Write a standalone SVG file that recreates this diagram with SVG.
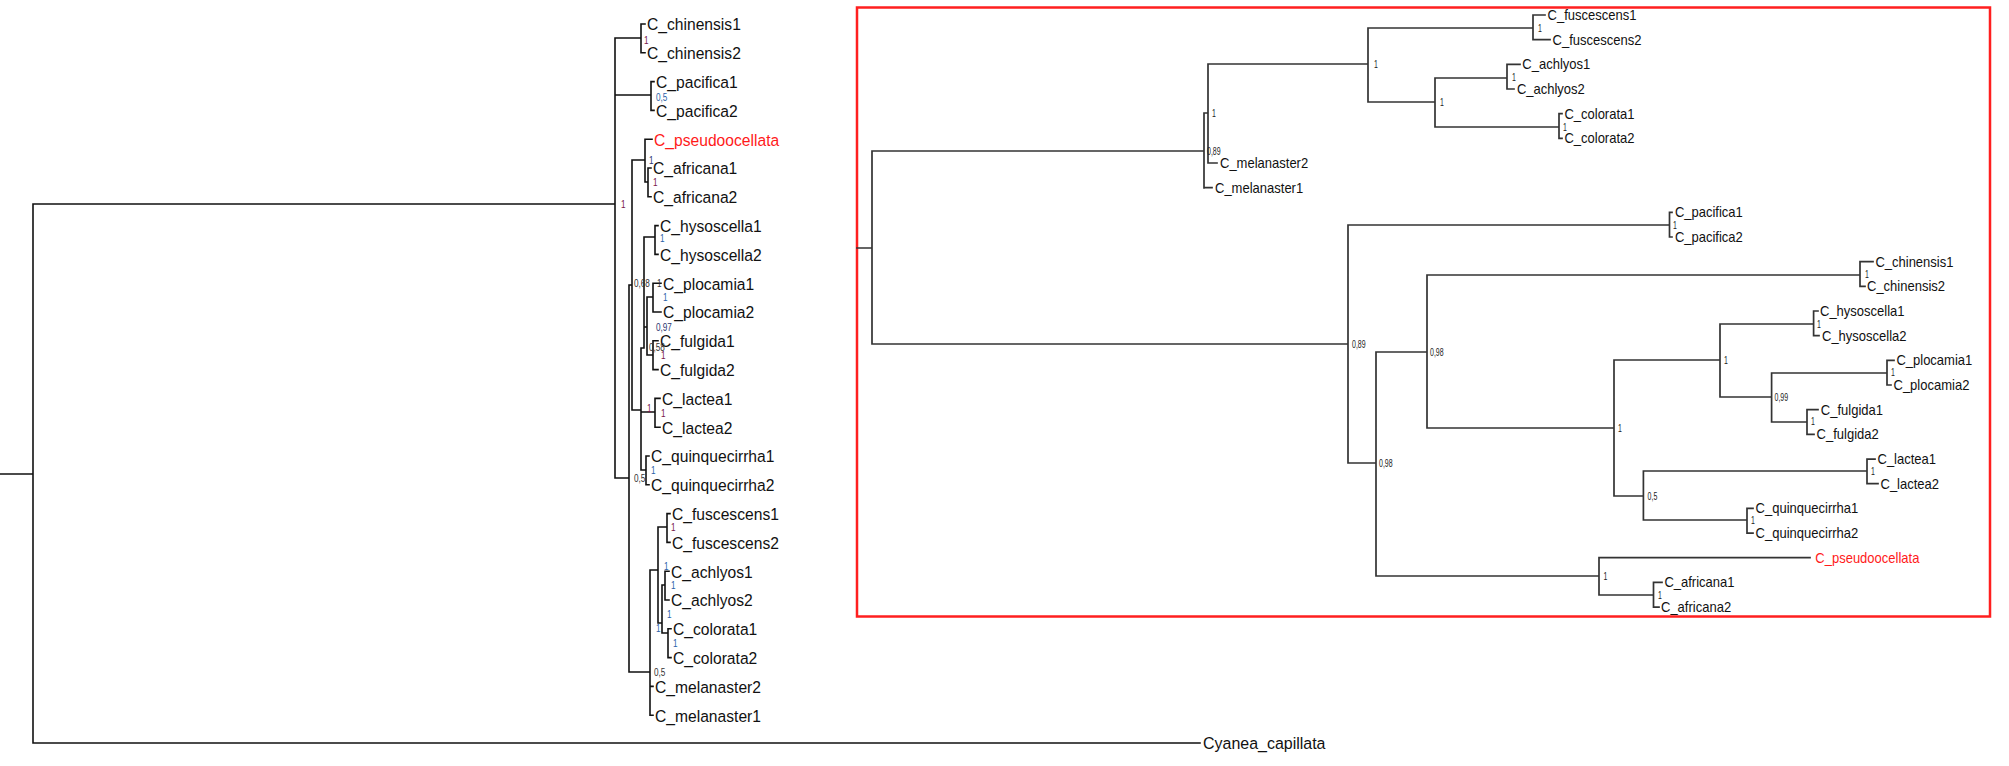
<svg xmlns="http://www.w3.org/2000/svg" width="2009" height="766" viewBox="0 0 2009 766">
<style>
.br{fill:none;stroke:#111;stroke-width:1.6;stroke-linecap:square}
.brr{fill:none;stroke:#333;stroke-width:1.7;stroke-linecap:square}
.lf{font-family:"Liberation Sans",Arial,sans-serif;font-size:17px;fill:#111}
.rf{font-family:"Liberation Sans",Arial,sans-serif;font-size:14px;fill:#111}
.red{fill:#ff1a1a}
.sl{font-family:"Liberation Sans",Arial,sans-serif;font-size:10.5px}
.sr{font-family:"Liberation Sans",Arial,sans-serif;font-size:10px;fill:#222}
.m{fill:#7a1848}.b{fill:#2a62a8}.n{fill:#2a3570}.d{fill:#333}
.box{fill:none;stroke:#ff1f1f;stroke-width:2.5}
</style>
<rect width="2009" height="766" fill="#fff"/>
<rect id="highlight-box" class="box" x="857" y="7.5" width="1133" height="609"/>
<g id="connectors">
<path class="br" d="M0 474H33M33 204V743M33 204H615M33 743H1200M615 38V478
M615 38H641M641 24V52.8M641 24H645M641 52.8H645
M615 95H651M651 81.6V110.4M651 81.6H654M651 110.4H654
M615 478H629M629 285V672
M629 285H632M632 160V410
M632 160H645M645 139.2V182M645 139.2H652
M645 182H648M648 168V196.8M648 168H651M648 196.8H651
M632 410H641M641 348V470
M641 348H644M644 237V348
M644 237H655M655 225.6V254.4M655 225.6H658M655 254.4H658
M644 327H647M647 297V355
M647 297H653M653 283.2V312M653 283.2H661M653 312H661
M647 355H653M653 340.8V369.6M653 340.8H658M653 369.6H658
M641 412H655M655 398.4V427.2M655 398.4H660M655 427.2H660
M641 470H646M646 456V484.8M646 456H649M646 484.8H649
M629 672H650M650 570V715.2M650 686.4H653M650 715.2H653
M650 570H658M658 527V623
M658 527H667M667 513.6V542.4M667 513.6H670M667 542.4H670
M658 623H662M662 585V633
M662 585H665M665 571.2V600M665 571.2H669M665 600H669
M662 633H668M668 628.8V657.6M668 628.8H671M668 657.6H671"/>
<path class="brr" d="M857 248H872M872 151V344M872 151H1204
M1204 113V188M1204 113H1208M1204 187.7H1212
M1208 64V163M1208 163H1217M1208 64H1368
M1368 28V102M1368 28H1533M1368 102H1435
M1533 15V39.7M1533 15H1545M1533 39.7H1550
M1435 78V127M1435 78H1507M1435 127H1559
M1507 64.3V89M1507 64.3H1520M1507 89H1514
M1559 113.7V138.4M1559 113.7H1562M1559 138.4H1562
M872 344H1348
M1348 225V463M1348 225H1669.5M1348 463H1376
M1669.5 212.4V237M1669.5 212.4H1672M1669.5 237H1672
M1376 352V576M1376 352H1427M1376 576H1599
M1427 275V428M1427 275H1860M1427 428H1614
M1860 261.7V286.4M1860 261.7H1873M1860 286.4H1865
M1614 360V496M1614 360H1720M1614 496H1643.4
M1720 324V397M1720 324H1813.6M1720 397H1771.6
M1813.6 311V335.7M1813.6 311H1818M1813.6 335.7H1819
M1771.6 373V422M1771.6 373H1887M1771.6 422H1807
M1887 360.4V385M1887 360.4H1894M1887 385H1891
M1807 409.7V434.4M1807 409.7H1818M1807 434.4H1814
M1643.4 471V520M1643.4 471H1867M1643.4 520H1747
M1867 459.1V483.7M1867 459.1H1875M1867 483.7H1878
M1747 508.4V533.1M1747 508.4H1753M1747 533.1H1753
M1599 557.7V595M1599 557.7H1810M1599 595H1653.5
M1653.5 582.4V607.1M1653.5 582.4H1662M1653.5 607.1H1659"/>
</g>
<g id="left-tree-leaves">
<g id="L-chinensis1"><text class="lf" transform="matrix(0.92 0 0 1 647 30.3)">C_chinensis1</text></g>
<g id="L-chinensis2"><text class="lf" transform="matrix(0.92 0 0 1 647 59.1)">C_chinensis2</text></g>
<g id="L-pacifica1"><text class="lf" transform="matrix(0.92 0 0 1 656 87.9)">C_pacifica1</text></g>
<g id="L-pacifica2"><text class="lf" transform="matrix(0.92 0 0 1 656 116.7)">C_pacifica2</text></g>
<g id="L-pseudoocellata"><text class="lf red" transform="matrix(0.92 0 0 1 654 145.5)">C_pseudoocellata</text></g>
<g id="L-africana1"><text class="lf" transform="matrix(0.92 0 0 1 653 174.3)">C_africana1</text></g>
<g id="L-africana2"><text class="lf" transform="matrix(0.92 0 0 1 653 203.1)">C_africana2</text></g>
<g id="L-hysoscella1"><text class="lf" transform="matrix(0.92 0 0 1 660 231.9)">C_hysoscella1</text></g>
<g id="L-hysoscella2"><text class="lf" transform="matrix(0.92 0 0 1 660 260.7)">C_hysoscella2</text></g>
<g id="L-plocamia1"><text class="lf" transform="matrix(0.92 0 0 1 663 289.5)">C_plocamia1</text></g>
<g id="L-plocamia2"><text class="lf" transform="matrix(0.92 0 0 1 663 318.3)">C_plocamia2</text></g>
<g id="L-fulgida1"><text class="lf" transform="matrix(0.92 0 0 1 660 347.1)">C_fulgida1</text></g>
<g id="L-fulgida2"><text class="lf" transform="matrix(0.92 0 0 1 660 375.9)">C_fulgida2</text></g>
<g id="L-lactea1"><text class="lf" transform="matrix(0.92 0 0 1 662 404.7)">C_lactea1</text></g>
<g id="L-lactea2"><text class="lf" transform="matrix(0.92 0 0 1 662 433.5)">C_lactea2</text></g>
<g id="L-quinquecirrha1"><text class="lf" transform="matrix(0.92 0 0 1 651 462.3)">C_quinquecirrha1</text></g>
<g id="L-quinquecirrha2"><text class="lf" transform="matrix(0.92 0 0 1 651 491.1)">C_quinquecirrha2</text></g>
<g id="L-fuscescens1"><text class="lf" transform="matrix(0.92 0 0 1 672 519.9)">C_fuscescens1</text></g>
<g id="L-fuscescens2"><text class="lf" transform="matrix(0.92 0 0 1 672 548.7)">C_fuscescens2</text></g>
<g id="L-achlyos1"><text class="lf" transform="matrix(0.92 0 0 1 671 577.5)">C_achlyos1</text></g>
<g id="L-achlyos2"><text class="lf" transform="matrix(0.92 0 0 1 671 606.3)">C_achlyos2</text></g>
<g id="L-colorata1"><text class="lf" transform="matrix(0.92 0 0 1 673 635.1)">C_colorata1</text></g>
<g id="L-colorata2"><text class="lf" transform="matrix(0.92 0 0 1 673 663.9)">C_colorata2</text></g>
<g id="L-melanaster2"><text class="lf" transform="matrix(0.92 0 0 1 655 692.7)">C_melanaster2</text></g>
<g id="L-melanaster1"><text class="lf" transform="matrix(0.92 0 0 1 655 721.5)">C_melanaster1</text></g>
<g id="L-Cyanea"><text class="lf" transform="matrix(0.94 0 0 1 1203 749)">Cyanea_capillata</text></g>
</g>
<g id="left-tree-supports">
<text class="sl m" transform="matrix(0.78 0 0 1 644 43.5)">1</text>
<text class="sl b" transform="matrix(0.78 0 0 1 656 100.5)">0,5</text>
<text class="sl m" transform="matrix(0.78 0 0 1 621 207.5)">1</text>
<text class="sl n" transform="matrix(0.78 0 0 1 649 163.5)">1</text>
<text class="sl m" transform="matrix(0.78 0 0 1 653 185.5)">1</text>
<text class="sl b" transform="matrix(0.78 0 0 1 660 241.5)">1</text>
<text class="sl d" transform="matrix(0.78 0 0 1 634 286.5)">0,68</text>
<text class="sl d" transform="matrix(0.78 0 0 1 657 286.5)">1</text>
<text class="sl b" transform="matrix(0.78 0 0 1 663 300.5)">1</text>
<text class="sl n" transform="matrix(0.78 0 0 1 656 330.5)">0,97</text>
<text class="sl d" transform="matrix(0.78 0 0 1 649 350.5)">0,58</text>
<text class="sl m" transform="matrix(0.78 0 0 1 661 358.5)">1</text>
<text class="sl m" transform="matrix(0.78 0 0 1 647 411.5)">1</text>
<text class="sl m" transform="matrix(0.78 0 0 1 661 416.5)">1</text>
<text class="sl b" transform="matrix(0.78 0 0 1 651 473.5)">1</text>
<text class="sl d" transform="matrix(0.78 0 0 1 634 481.5)">0,5</text>
<text class="sl m" transform="matrix(0.78 0 0 1 671 530.5)">1</text>
<text class="sl b" transform="matrix(0.78 0 0 1 664 569.5)">1</text>
<text class="sl b" transform="matrix(0.78 0 0 1 671 588.5)">1</text>
<text class="sl b" transform="matrix(0.78 0 0 1 667 617.5)">1</text>
<text class="sl b" transform="matrix(0.78 0 0 1 656 631.5)">1</text>
<text class="sl b" transform="matrix(0.78 0 0 1 673 646.5)">1</text>
<text class="sl d" transform="matrix(0.78 0 0 1 654 675.5)">0,5</text>
</g>
<g id="right-tree-leaves">
<g id="R-fuscescens1"><text class="rf" transform="matrix(0.93 0 0 1 1547.6 20)">C_fuscescens1</text></g>
<g id="R-fuscescens2"><text class="rf" transform="matrix(0.93 0 0 1 1552.6 44.7)">C_fuscescens2</text></g>
<g id="R-achlyos1"><text class="rf" transform="matrix(0.93 0 0 1 1522.3 69.3)">C_achlyos1</text></g>
<g id="R-achlyos2"><text class="rf" transform="matrix(0.93 0 0 1 1516.9 94)">C_achlyos2</text></g>
<g id="R-colorata1"><text class="rf" transform="matrix(0.93 0 0 1 1564.4 118.7)">C_colorata1</text></g>
<g id="R-colorata2"><text class="rf" transform="matrix(0.93 0 0 1 1564.4 143.4)">C_colorata2</text></g>
<g id="R-melanaster2"><text class="rf" transform="matrix(0.93 0 0 1 1220 168)">C_melanaster2</text></g>
<g id="R-melanaster1"><text class="rf" transform="matrix(0.93 0 0 1 1215 192.7)">C_melanaster1</text></g>
<g id="R-pacifica1"><text class="rf" transform="matrix(0.93 0 0 1 1674.9 217.4)">C_pacifica1</text></g>
<g id="R-pacifica2"><text class="rf" transform="matrix(0.93 0 0 1 1674.9 242)">C_pacifica2</text></g>
<g id="R-chinensis1"><text class="rf" transform="matrix(0.93 0 0 1 1875.4 266.7)">C_chinensis1</text></g>
<g id="R-chinensis2"><text class="rf" transform="matrix(0.93 0 0 1 1867 291.4)">C_chinensis2</text></g>
<g id="R-hysoscella1"><text class="rf" transform="matrix(0.93 0 0 1 1820 316)">C_hysoscella1</text></g>
<g id="R-hysoscella2"><text class="rf" transform="matrix(0.93 0 0 1 1822 340.7)">C_hysoscella2</text></g>
<g id="R-plocamia1"><text class="rf" transform="matrix(0.93 0 0 1 1896.4 365.4)">C_plocamia1</text></g>
<g id="R-plocamia2"><text class="rf" transform="matrix(0.93 0 0 1 1893.5 390)">C_plocamia2</text></g>
<g id="R-fulgida1"><text class="rf" transform="matrix(0.93 0 0 1 1820.8 414.7)">C_fulgida1</text></g>
<g id="R-fulgida2"><text class="rf" transform="matrix(0.93 0 0 1 1816.6 439.4)">C_fulgida2</text></g>
<g id="R-lactea1"><text class="rf" transform="matrix(0.93 0 0 1 1877.5 464.1)">C_lactea1</text></g>
<g id="R-lactea2"><text class="rf" transform="matrix(0.93 0 0 1 1880.5 488.7)">C_lactea2</text></g>
<g id="R-quinquecirrha1"><text class="rf" transform="matrix(0.93 0 0 1 1755.6 513.4)">C_quinquecirrha1</text></g>
<g id="R-quinquecirrha2"><text class="rf" transform="matrix(0.93 0 0 1 1755.6 538.1)">C_quinquecirrha2</text></g>
<g id="R-pseudoocellata"><text class="rf red" transform="matrix(0.93 0 0 1 1815.3 562.7)">C_pseudoocellata</text></g>
<g id="R-africana1"><text class="rf" transform="matrix(0.93 0 0 1 1664.4 587.4)">C_africana1</text></g>
<g id="R-africana2"><text class="rf" transform="matrix(0.93 0 0 1 1661 612.1)">C_africana2</text></g>
</g>
<g id="right-tree-supports">
<text class="sr" transform="matrix(0.7 0 0 1 1212 116.5)">1</text>
<text class="sr" transform="matrix(0.7 0 0 1 1207 154.5)">0,89</text>
<text class="sr" transform="matrix(0.7 0 0 1 1374 67.5)">1</text>
<text class="sr" transform="matrix(0.7 0 0 1 1538 31.5)">1</text>
<text class="sr" transform="matrix(0.7 0 0 1 1440 105.5)">1</text>
<text class="sr" transform="matrix(0.7 0 0 1 1512 80.5)">1</text>
<text class="sr" transform="matrix(0.7 0 0 1 1563 130.5)">1</text>
<text class="sr" transform="matrix(0.7 0 0 1 1673 228.5)">1</text>
<text class="sr" transform="matrix(0.7 0 0 1 1352 347.5)">0,89</text>
<text class="sr" transform="matrix(0.7 0 0 1 1379 466.5)">0,98</text>
<text class="sr" transform="matrix(0.7 0 0 1 1430 355.5)">0,98</text>
<text class="sr" transform="matrix(0.7 0 0 1 1865 277.5)">1</text>
<text class="sr" transform="matrix(0.7 0 0 1 1618 431.5)">1</text>
<text class="sr" transform="matrix(0.7 0 0 1 1724 363.5)">1</text>
<text class="sr" transform="matrix(0.7 0 0 1 1817 327.5)">1</text>
<text class="sr" transform="matrix(0.7 0 0 1 1774.5 400.5)">0,99</text>
<text class="sr" transform="matrix(0.7 0 0 1 1891 375.5)">1</text>
<text class="sr" transform="matrix(0.7 0 0 1 1811 424.5)">1</text>
<text class="sr" transform="matrix(0.7 0 0 1 1647.6 499.5)">0,5</text>
<text class="sr" transform="matrix(0.7 0 0 1 1871 474.5)">1</text>
<text class="sr" transform="matrix(0.7 0 0 1 1751 523.5)">1</text>
<text class="sr" transform="matrix(0.7 0 0 1 1603.5 579.5)">1</text>
<text class="sr" transform="matrix(0.7 0 0 1 1658 598.5)">1</text>
</g>
</svg>
